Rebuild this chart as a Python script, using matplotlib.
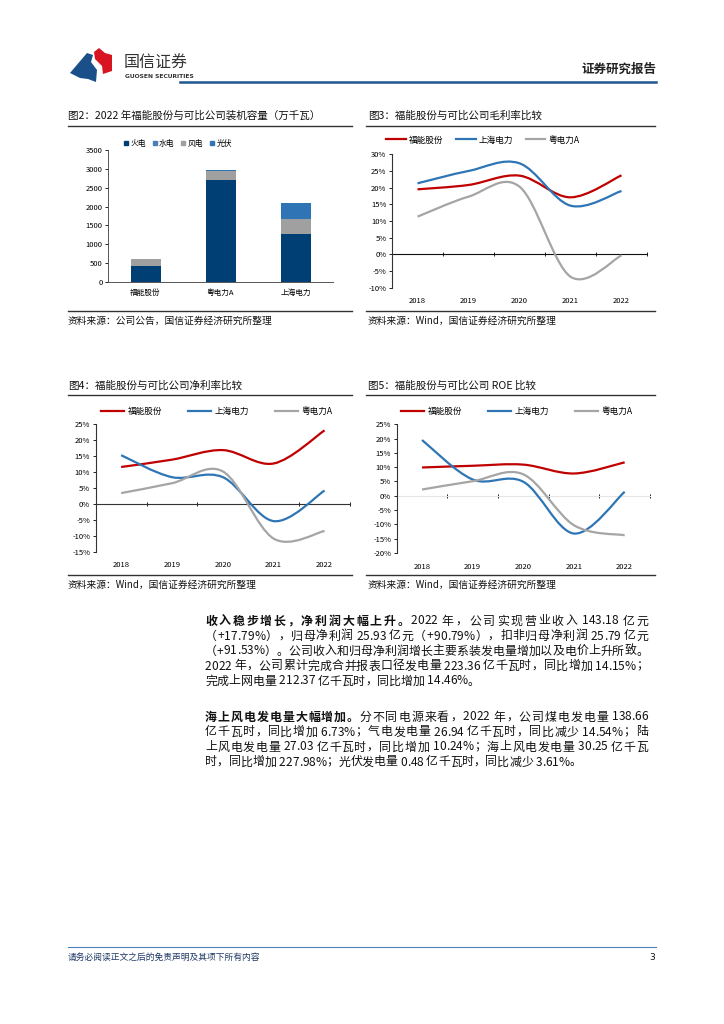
import matplotlib
matplotlib.use("Agg")
from matplotlib import pyplot as plt
from matplotlib.path import Path
from matplotlib.patches import PathPatch, Polygon
from matplotlib.lines import Line2D

plt.rcParams['font.family'] = ['Noto Sans CJK SC', 'DejaVu Sans']
plt.rcParams['axes.unicode_minus'] = False

W, H = 724, 1024

# ---- data ----
companies = ['福能股份', '粤电力A', '上海电力']
kinds = ['火电', '水电', '风电', '光伏']
cap_thermal = [430, 2700, 1270]
cap_hydro = [0, 0, 0]
cap_wind = [170, 240, 390]
cap_solar = [5, 20, 430]

years = ['2018', '2019', '2020', '2021', '2022']
series_names = ['福能股份', '上海电力', '粤电力A']

gross_fn = [19.5, 20.8, 23.6, 17.1, 23.7]
gross_sh = [21.3, 25.0, 27.3, 14.6, 19.0]
gross_yd = [11.3, 17.3, 20.3, -6.7, -0.3]

net_fn = [11.6, 13.9, 16.9, 12.7, 23.1]
net_sh = [15.3, 8.4, 8.4, -5.4, 4.2]
net_yd = [3.4, 6.5, 10.2, -10.9, -8.5]

roe_fn = [9.9, 10.5, 10.9, 7.8, 11.7]
roe_sh = [19.5, 5.7, 4.9, -13.2, 1.4]
roe_yd = [2.2, 5.1, 7.5, -10.3, -13.8]

line_colors = ['#c00000', '#2e75b6', '#a5a5a5']
bar_colors = ['#003f73', '#4a7ebb', '#a0a0a0', '#2f74b5']

fig = plt.figure(figsize=(W / 100, H / 100), dpi=100)


def fx(x):
    return x / W


def fy(y):
    return 1 - y / H


def add_axes(left, top, right, bottom):
    return fig.add_axes([fx(left), fy(bottom), (right - left) / W, (bottom - top) / H])


def hline(x0, x1, y, color='#333333', lw=1.0):
    fig.add_artist(Line2D([fx(x0), fx(x1)], [fy(y), fy(y)], color=color, lw=lw))


def smooth_path(xs, ys):
    pts = list(zip(xs, ys))
    n = len(pts)
    verts = [pts[0]]
    codes = [Path.MOVETO]
    for i in range(n - 1):
        p0 = pts[max(i - 1, 0)]
        p1 = pts[i]
        p2 = pts[i + 1]
        p3 = pts[min(i + 2, n - 1)]
        c1 = (p1[0] + (p2[0] - p0[0]) / 6, p1[1] + (p2[1] - p0[1]) / 6)
        c2 = (p2[0] - (p3[0] - p1[0]) / 6, p2[1] - (p3[1] - p1[1]) / 6)
        verts += [c1, c2, p2]
        codes += [Path.CURVE4] * 3
    return Path(verts, codes)


# ---- header ----
fig.add_artist(Polygon([(fx(70), fy(73)), (fx(87), fy(53)), (fx(93), fy(55)),
                        (fx(91), fy(62)), (fx(97), fy(70)), (fx(96), fy(82)),
                        (fx(88), fy(79)), (fx(80), fy(78))],
                       closed=True, facecolor='#1b4f8a', edgecolor='none'))
fig.add_artist(Polygon([(fx(94), fy(52)), (fx(99), fy(48)), (fx(105), fy(53)),
                        (fx(112), fy(55)), (fx(112), fy(71)), (fx(103), fy(74)),
                        (fx(102), fy(66)), (fx(95), fy(59))],
                       closed=True, facecolor='#d7141f', edgecolor='none'))
fig.text(fx(124), fy(63), '国信证券', fontsize=11.5, color='#333333', va='center')
fig.text(fx(125), fy(77), 'GUOSEN SECURITIES', fontsize=4.3, color='#333333',
         va='center', family='DejaVu Sans', weight='bold')
fig.text(fx(656), fy(69), '证券研究报告', fontsize=9, weight='bold', color='#222222',
         ha='right', va='center')
hline(180, 656, 82, color='#1f5590', lw=1.8)

# ---- titles / sources ----
title_kw = dict(fontsize=7.6, color='#111111', va='center')
fig.text(fx(68), fy(116), '图2：2022 年福能股份与可比公司装机容量（万千瓦）', **title_kw)
fig.text(fx(368), fy(116), '图3：福能股份与可比公司毛利率比较', **title_kw)
fig.text(fx(68), fy(386), '图4：福能股份与可比公司净利率比较', **title_kw)
fig.text(fx(368), fy(386), '图5：福能股份与可比公司 ROE 比较', **title_kw)
for y in (126, 395):
    hline(68, 352, y)
    hline(366, 655, y)
for y in (311, 575):
    hline(68, 352, y)
    hline(366, 655, y)
src_kw = dict(fontsize=7, color='#111111', va='center')
fig.text(fx(68), fy(321), '资料来源：公司公告，国信证券经济研究所整理', **src_kw)
fig.text(fx(368), fy(321), '资料来源：Wind，国信证券经济研究所整理', **src_kw)
fig.text(fx(68), fy(585), '资料来源：Wind，国信证券经济研究所整理', **src_kw)
fig.text(fx(368), fy(585), '资料来源：Wind，国信证券经济研究所整理', **src_kw)

tick_fs = 5.5

# ---- chart 2: stacked bars ----
ax = add_axes(108, 150, 333, 282)
xs = range(len(companies))
bottom = [0] * len(companies)
for vals, col, name in zip([cap_thermal, cap_hydro, cap_wind, cap_solar], bar_colors, kinds):
    ax.bar(xs, vals, bottom=bottom, width=0.4, color=col, label=name)
    bottom = [b + v for b, v in zip(bottom, vals)]
ax.set_xlim(-0.5, 2.5)
ax.set_ylim(0, 3500)
ax.set_yticks(range(0, 3501, 500))
ax.set_xticks(list(xs))
ax.set_xticklabels(companies)
ax.tick_params(axis='y', labelsize=tick_fs, length=2, width=0.6, pad=2)
ax.tick_params(axis='x', labelsize=tick_fs, length=0, pad=5)
for s in ('top', 'right'):
    ax.spines[s].set_visible(False)
for s in ('left', 'bottom'):
    ax.spines[s].set_color('#555555')
    ax.spines[s].set_linewidth(0.7)
handles = [Line2D([], [], marker='s', ls='none', color=c, markersize=2.5) for c in bar_colors]
fig.legend(handles, kinds, loc='center left', bbox_to_anchor=(fx(124), fy(144)),
           ncol=4, frameon=False, fontsize=5.6, handlelength=0.5, handletextpad=0.3,
           columnspacing=0.9, borderaxespad=0, borderpad=0)


# ---- line charts ----
def line_chart(box, ylo, yhi, step, data, legend_y, legend_x, zero_color, hlen, cspace):
    ax = add_axes(*box)
    xs = list(range(len(years)))
    for vals, col in zip(data, line_colors):
        ax.add_patch(PathPatch(smooth_path(xs, vals), fill=False, edgecolor=col,
                               lw=1.6, joinstyle='round', capstyle='butt'))
    ax.set_xlim(-0.5, len(years) - 0.5)
    ax.set_ylim(ylo, yhi)
    ax.set_yticks(range(ylo, yhi + 1, step))
    ax.set_yticklabels([f'{v}%' for v in range(ylo, yhi + 1, step)])
    ax.set_xticks(xs)
    ax.set_xticklabels(years)
    ax.tick_params(axis='y', labelsize=tick_fs, length=2, width=0.6, pad=2)
    ax.tick_params(axis='x', labelsize=tick_fs, length=0, pad=7)
    for s in ('top', 'right', 'bottom'):
        ax.spines[s].set_visible(False)
    ax.spines['left'].set_color('#333333')
    ax.spines['left'].set_linewidth(0.8)
    frac = (0 - ylo) / (yhi - ylo)
    sec = ax.secondary_xaxis(frac)
    sec.set_xticks([i + 0.5 for i in xs])
    sec.tick_params(axis='x', length=3, width=0.7, direction='inout',
                    labelbottom=False, labeltop=False, color='#222222')
    sec.spines['bottom'].set_color(zero_color)
    sec.spines['bottom'].set_linewidth(0.8)
    handles = [Line2D([], [], color=c, lw=1.6) for c in line_colors]
    fig.legend(handles, series_names, loc='center left',
               bbox_to_anchor=(fx(legend_x), fy(legend_y)), ncol=3, frameon=False,
               fontsize=6.2, handlelength=hlen, handletextpad=0.4, columnspacing=cspace,
               borderaxespad=0, borderpad=0)
    return ax


line_chart((392, 154.3, 647, 287.7), -10, 30, 5, [gross_fn, gross_sh, gross_yd],
           140, 386, '#111111', 2.3, 1.4)
line_chart((95.7, 424.3, 350, 551.7), -15, 25, 5, [net_fn, net_sh, net_yd],
           411.7, 101, '#333333', 2.7, 3.0)
line_chart((396.7, 424.3, 650, 553), -20, 25, 5, [roe_fn, roe_sh, roe_yd],
           411.7, 401, '#e6e6e6', 2.7, 3.0)

# ---- body text (justified lines) ----
renderer = fig.canvas.get_renderer()
body_fs = 8.6
text_left, text_right = 205, 648


def char_width(ch, weight):
    t = fig.text(0, 0, ch, fontsize=body_fs, weight=weight)
    w = t.get_window_extent(renderer).width
    t.remove()
    return w


def rich_line(y, parts, justify):
    chars = [(ch, w) for text, w in parts for ch in text]
    widths = [char_width(ch, w) if ch != ' ' else body_fs * 0.3 for ch, w in chars]
    # stretch only between wide characters, keep numbers tight
    slots = [i for i in range(len(chars) - 1)
             if ord(chars[i][0]) > 127 or ord(chars[i + 1][0]) > 127]
    gap = 0
    if justify and slots:
        gap = (text_right - text_left - sum(widths)) / len(slots)
    x = text_left
    for i, ((ch, w), cw) in enumerate(zip(chars, widths)):
        if ch != ' ':
            fig.text(fx(x), fy(y), ch, fontsize=body_fs, weight=w,
                     color='#111111', va='center')
        x += cw + (gap if i in slots else 0)


para1 = [
    [('收入稳步增长，净利润大幅上升。', 'bold'), ('2022 年，公司实现营业收入 143.18 亿元', 'normal')],
    [('（+17.79%），归母净利润 25.93 亿元（+90.79%），扣非归母净利润 25.79 亿元', 'normal')],
    [('（+91.53%）。公司收入和归母净利润增长主要系装发电量增加以及电价上升所致。', 'normal')],
    [('2022 年，公司累计完成合并报表口径发电量 223.36 亿千瓦时，同比增加 14.15%；', 'normal')],
    [('完成上网电量 212.37 亿千瓦时，同比增加 14.46%。', 'normal')],
]
para2 = [
    [('海上风电发电量大幅增加。', 'bold'), ('分不同电源来看，2022 年，公司煤电发电量 138.66', 'normal')],
    [('亿千瓦时，同比增加 6.73%；气电发电量 26.94 亿千瓦时，同比减少 14.54%；陆', 'normal')],
    [('上风电发电量 27.03 亿千瓦时，同比增加 10.24%；海上风电发电量 30.25 亿千瓦', 'normal')],
    [('时，同比增加 227.98%；光伏发电量 0.48 亿千瓦时，同比减少 3.61%。', 'normal')],
]
for i, parts in enumerate(para1):
    rich_line(621 + 15 * i, parts, i < len(para1) - 1)
for i, parts in enumerate(para2):
    rich_line(717 + 15 * i, parts, i < len(para2) - 1)

# ---- footer ----
hline(68, 656, 947, color='#4f81bd', lw=0.8)
fig.text(fx(68), fy(957), '请务必阅读正文之后的免责声明及其项下所有内容', fontsize=6.3,
         style='italic', color='#1f3864', va='center')
fig.text(fx(655), fy(957), '3', fontsize=6.5, color='#111111', ha='right', va='center',
         family='DejaVu Sans')

fig.savefig('out.png', dpi=100)
